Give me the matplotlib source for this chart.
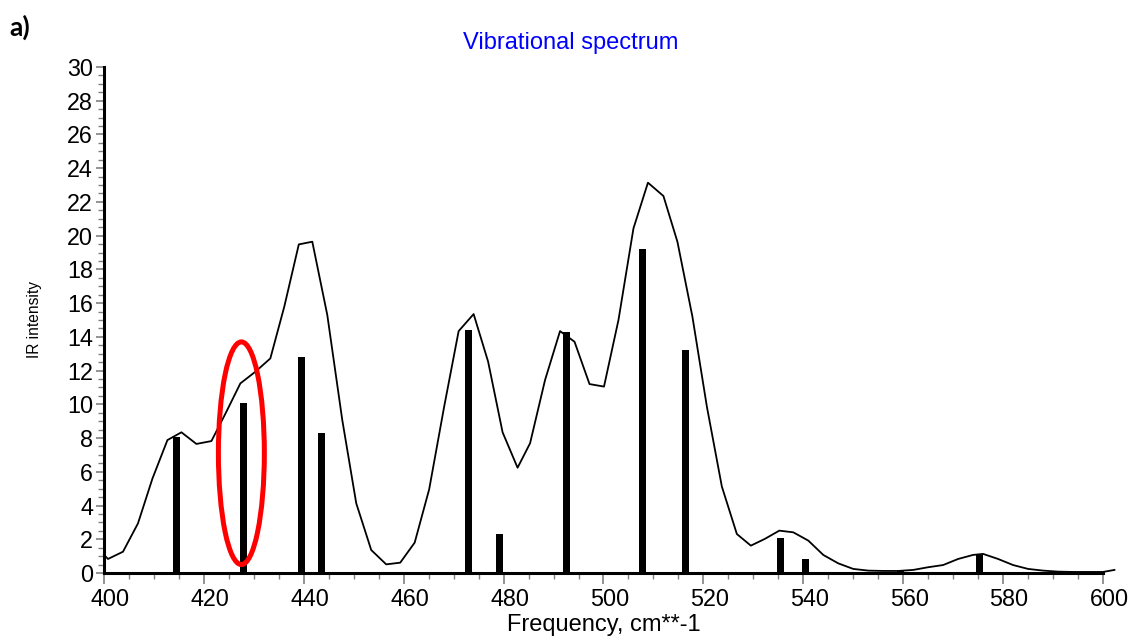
import matplotlib
matplotlib.use("Agg")
import matplotlib.pyplot as plt
from matplotlib.patches import Ellipse
from matplotlib.ticker import MultipleLocator
from matplotlib.transforms import ScaledTranslation

plt.rcParams['font.family'] = ['Liberation Sans', 'DejaVu Sans']

# Stick spectrum (frequency, IR intensity)
stick_freq = [414.5, 427.9, 439.5, 443.5, 472.9, 479.2, 492.5, 507.9, 516.5, 535.5, 540.5, 559.5, 575.3]
stick_int = [8.05, 10.1, 12.8, 8.28, 14.4, 2.3, 14.3, 19.2, 13.2, 2.07, 0.83, 0.15, 1.1]

# Broadened spectrum
curve_freq = [400.0, 400.8, 403.8, 406.8, 409.7, 412.7, 415.5, 418.5, 421.5, 424.4, 427.3, 430.3,
              433.3, 436.1, 439.0, 441.7, 444.7, 447.7, 450.5, 453.5, 456.5, 459.3, 462.2, 465.1,
              468.1, 471.0, 474.0, 476.9, 479.8, 482.8, 485.3, 488.3, 491.3, 494.2, 497.2, 500.1,
              503.0, 506.0, 508.9, 512.0, 514.8, 517.8, 520.7, 523.7, 526.7, 529.5, 532.3, 535.2,
              538.0, 541.0, 544.0, 547.0, 550.0, 553.0, 556.0, 559.0, 562.0, 565.0, 568.0, 571.0,
              574.0, 576.0, 579.0, 582.0, 585.0, 588.0, 591.0, 594.0, 597.0, 600.0, 602.3]
curve_int = [1.07, 0.83, 1.26, 2.94, 5.6, 7.88, 8.34, 7.65, 7.82, 9.5, 11.24, 11.93,
             12.72, 15.8, 19.48, 19.64, 15.3, 9.07, 4.13, 1.36, 0.51, 0.61, 1.8, 4.96,
             9.86, 14.34, 15.35, 12.53, 8.34, 6.24, 7.69, 11.44, 14.34, 13.71, 11.2, 11.05,
             15.0, 20.43, 23.14, 22.35, 19.64, 15.2, 9.86, 5.12, 2.31, 1.62, 2.02, 2.51,
             2.41, 1.92, 1.07, 0.57, 0.24, 0.14, 0.12, 0.12, 0.18, 0.34, 0.47, 0.83,
             1.07, 1.13, 0.83, 0.47, 0.24, 0.14, 0.08, 0.06, 0.06, 0.06, 0.18]

x_ticks = [400, 420, 440, 460, 480, 500, 520, 540, 560, 580, 600]
y_ticks = list(range(0, 31, 2))

fig = plt.figure(figsize=(11.33, 6.44), dpi=100)
ax = fig.add_axes([0.0918, 0.1103, 0.8817, 0.7857])

ax.bar(stick_freq, stick_int, width=1.4, color='black', zorder=2)
ax.plot(curve_freq, curve_int, color='black', lw=1.3, zorder=3, clip_on=False)

ax.add_patch(Ellipse((427.5, 7.1), 9.2, 13.2, fill=False, edgecolor='#ff0000', lw=3.6, zorder=4))

ax.set_xlim(400, 600)
ax.set_ylim(0, 30)
ax.set_xticks(x_ticks)
ax.set_yticks(y_ticks)
ax.xaxis.set_minor_locator(MultipleLocator(5))
ax.yaxis.set_minor_locator(MultipleLocator(0.5))

for s in ['top', 'right']:
    ax.spines[s].set_visible(False)
for s in ['left', 'bottom']:
    ax.spines[s].set_linewidth(2.2)

ax.tick_params(axis='both', which='major', labelsize=16.8, color='#808080', width=1.2, length=6, pad=2)
ax.tick_params(axis='both', which='minor', color='#808080', width=1.0, length=4)
ax.tick_params(axis='x', which='major', length=8, pad=3)

shift = ScaledTranslation(6 / 100, 0, fig.dpi_scale_trans)
for lbl in ax.get_xticklabels():
    lbl.set_transform(lbl.get_transform() + shift)

ax.set_xlabel('Frequency, cm**-1', fontsize=17, labelpad=2)
ax.set_ylabel('IR intensity', fontsize=11.2, labelpad=18)

fig.text(571 / 1133, 1 - 43 / 644, 'Vibrational spectrum', color='#0000ff', fontsize=17,
         ha='center', va='center')
fig.text(9 / 1133, 1 - 27 / 644, 'a)', fontsize=19, fontweight='bold', family=['Lato', 'DejaVu Sans'],
         ha='left', va='center')

fig.savefig('out.png', dpi=100)
